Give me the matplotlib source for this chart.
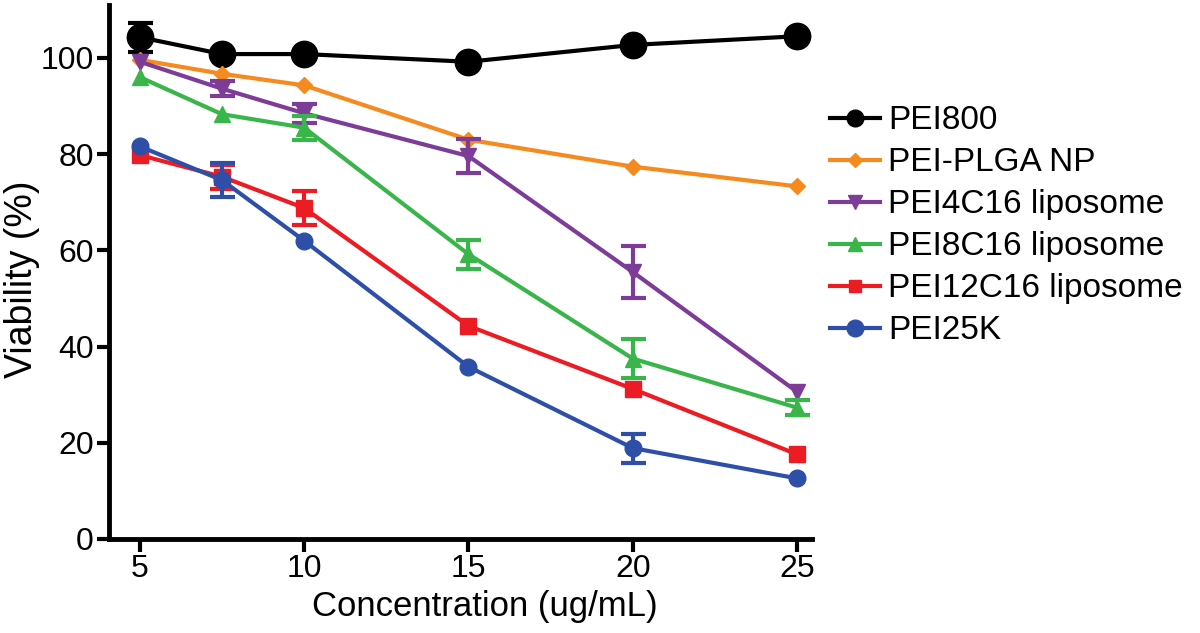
import matplotlib
matplotlib.use("Agg")
import matplotlib.pyplot as plt
from matplotlib.lines import Line2D

plt.rcParams["font.family"] = ["Liberation Sans", "DejaVu Sans"]

conc = [5, 7.5, 10, 15, 20, 25]

labels = ["PEI800", "PEI-PLGA NP", "PEI4C16 liposome",
          "PEI8C16 liposome", "PEI12C16 liposome", "PEI25K"]

# 0 = error bar hidden behind the symbol
pei800 = [104.3, 100.8, 100.8, 99.2, 102.7, 104.5]
pei800_err = [3.0, 0, 0, 0, 0, 0]

plga = [99.6, 96.7, 94.3, 83.0, 77.4, 73.3]
plga_err = [0, 0, 0, 0, 0, 0]

c4 = [99.2, 93.6, 88.5, 79.6, 55.5, 30.6]
c4_err = [0, 1.5, 2.0, 3.5, 5.5, 0]

c8 = [96.0, 88.3, 85.5, 59.2, 37.5, 27.3]
c8_err = [0, 0, 2.5, 3.0, 4.0, 1.5]

c12 = [79.8, 75.3, 68.8, 44.3, 31.2, 17.6]
c12_err = [0, 2.5, 3.5, 0, 0, 0]

k25 = [81.6, 74.6, 62.0, 35.8, 18.9, 12.6]
k25_err = [0, 3.5, 0, 0, 3.0, 0]

# values, errors, colour, marker, plot marker size, legend marker size
series = [
    (pei800, pei800_err, "#000000", "o", 19, 12),
    (plga, plga_err, "#f58a1f", "D", 8, 7),
    (c4, c4_err, "#7d3c98", "v", 12, 10),
    (c8, c8_err, "#39b54a", "^", 12, 10),
    (c12, c12_err, "#ec1c24", "s", 11, 9),
    (k25, k25_err, "#2e4fa8", "o", 12, 12),
]

fig = plt.figure(figsize=(12, 6.33), dpi=100)
ax = fig.add_axes([0.0908, 0.1485, 0.586, 0.8436])

handles = []
for i, ((vals, err, color, marker, ms, lms), label) in enumerate(zip(series, labels)):
    z = 2 + i
    ax.plot(conc, vals, color=color, marker=marker, markersize=ms,
            linewidth=3, zorder=z + 0.5)
    ex = [x for x, e in zip(conc, err) if e > 0]
    ey = [v for v, e in zip(vals, err) if e > 0]
    ee = [e for e in err if e > 0]
    if ex:
        ax.errorbar(ex, ey, yerr=ee, fmt="none", ecolor=color,
                    elinewidth=3, capsize=9, capthick=3, zorder=z)
    handles.append(Line2D([], [], color=color, marker=marker,
                          markersize=lms, linewidth=3, label=label))

ax.set_xlim(4.06, 25.46)
ax.set_ylim(0, 111)
ax.set_xticks([5, 10, 15, 20, 25])
ax.set_yticks([0, 20, 40, 60, 80, 100])
ax.tick_params(axis="both", labelsize=23, width=3, length=9, pad=2)
ax.spines["top"].set_visible(False)
ax.spines["right"].set_visible(False)
ax.spines["left"].set_linewidth(3.5)
ax.spines["bottom"].set_linewidth(3.5)

ax.set_xlabel("Concentration (ug/mL)", fontsize=25)
ax.xaxis.set_label_coords(0.535, -0.095)
ax.set_ylabel("Viability (%)", fontsize=27)
ax.yaxis.set_label_coords(-0.098, 0.487)

ax.legend(handles=handles, loc="upper left", bbox_to_anchor=(1.0256, 0.812),
          frameon=False, fontsize=24, handlelength=1.5, labelspacing=0.33,
          handletextpad=0.25, borderaxespad=0, borderpad=0)

fig.savefig("out.png", dpi=100)
